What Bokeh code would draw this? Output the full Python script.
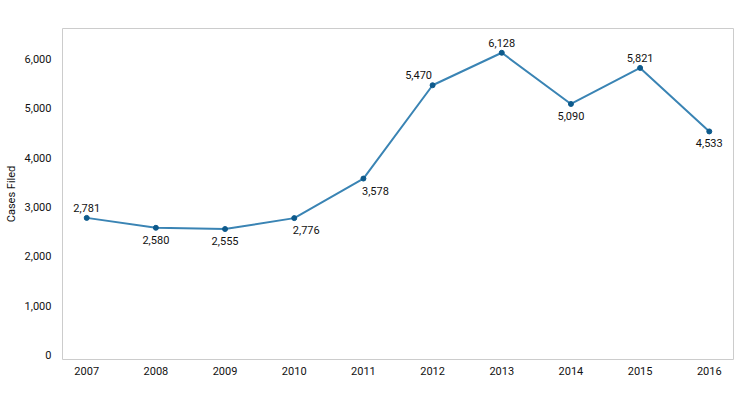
from bokeh.plotting import figure
from bokeh.models import Range1d, ColumnDataSource, NumeralTickFormatter, FixedTicker, LabelSet
from bokeh.core.properties import value
from bokeh.embed import file_html
from bokeh.resources import INLINE

years = [2007, 2008, 2009, 2010, 2011, 2012, 2013, 2014, 2015, 2016]
cases = [2781, 2580, 2555, 2776, 3578, 5470, 6128, 5090, 5821, 4533]
labels = ["2,781", "2,580", "2,555", "2,776", "3,578", "5,470", "6,128", "5,090", "5,821", "4,533"]
y_ticks = [0, 1000, 2000, 3000, 4000, 5000, 6000]

FONT = "Roboto"

# label placement: above / below / right offsets
xoff = [0, 0, 0, 12, 12, -14, 0, 0, 0, 0]
yoff = [6, -8, -8, -8, -8, 6, 6, -8, 6, -8]
base = ["bottom" if o > 0 else "top" for o in yoff]

src = ColumnDataSource(dict(x=years, y=cases, t=labels, xo=xoff, yo=yoff, b=base))

p = figure(width=734, height=384, output_backend="svg", toolbar_location=None,
           x_range=Range1d(2006.65, 2016.35), y_range=Range1d(-90, 6620),
           min_border_left=62, min_border_right=1, min_border_top=28, min_border_bottom=25)

p.line("x", "y", source=src, line_color="#3a84b4", line_width=2)
p.scatter("x", "y", source=src, size=5, color="#0d5a8c")

ls = LabelSet(x="x", y="y", text="t", source=src, x_offset="xo", y_offset="yo",
              text_align="center", text_baseline="b", text_font=value(FONT),
              text_font_size="11px", text_color="#111111")
p.add_layout(ls)

p.xgrid.visible = False
p.ygrid.visible = False
p.outline_line_color = "#cccccc"
p.outline_line_width = 1

p.xaxis.ticker = FixedTicker(ticks=years)
p.yaxis.ticker = FixedTicker(ticks=y_ticks)
p.yaxis.formatter = NumeralTickFormatter(format="0,0")
for ax in (p.xaxis[0], p.yaxis[0]):
    ax.axis_line_color = None
    ax.major_tick_line_color = None
    ax.minor_tick_line_color = None
    ax.major_tick_out = 0
    ax.major_tick_in = 0
    ax.minor_tick_out = 0
    ax.major_label_text_font = FONT
    ax.major_label_text_font_size = "11px"
    ax.major_label_text_color = "#111111"
p.xaxis.major_label_standoff = 7
p.yaxis.major_label_standoff = 11
p.yaxis.axis_label = "Cases Filed"
p.yaxis.axis_label_text_font = FONT
p.yaxis.axis_label_text_font_size = "11px"
p.yaxis.axis_label_text_font_style = "normal"
p.yaxis.axis_label_text_color = "#111111"
p.yaxis.axis_label_standoff = 4

open("out.html", "w").write(file_html(p, INLINE))
